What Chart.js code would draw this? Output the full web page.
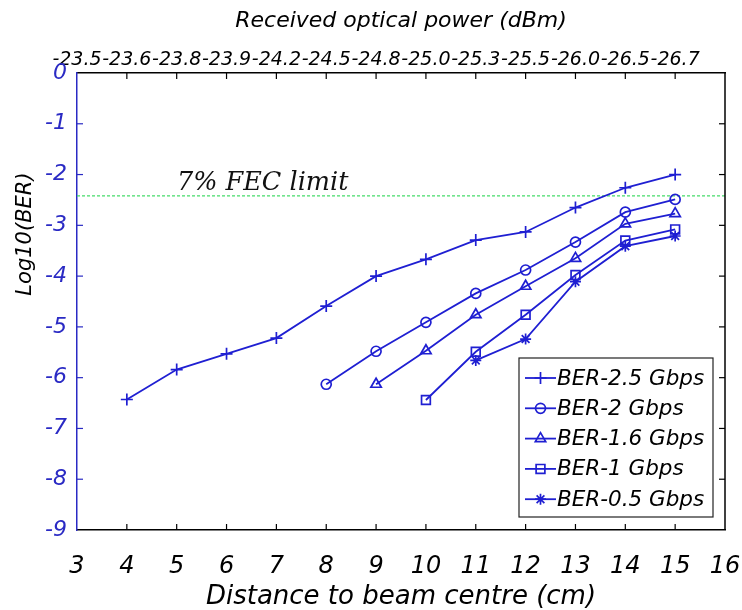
<!DOCTYPE html>
<html>
<head>
<meta charset="utf-8">
<script src="https://cdn.jsdelivr.net/npm/chart.js@4/dist/chart.umd.min.js"></script>
<style>
  html, body { margin: 0; padding: 0; background: #ffffff; }
  #wrap { width: 742px; height: 610px; position: relative; }
</style>
</head>
<body>
<div id="wrap"><canvas id="c" width="742" height="610"></canvas></div>
<script>
// ---- data ----
const xTicks = [3, 4, 5, 6, 7, 8, 9, 10, 11, 12, 13, 14, 15, 16];
const topTickLabels = ['-23.5','-23.6','-23.8','-23.9','-24.2','-24.5','-24.8','-25.0','-25.3','-25.5','-26.0','-26.5','-26.7'];

const dist25 = [4, 5, 6, 7, 8, 9, 10, 11, 12, 13, 14, 15];
const ber25  = [-6.43, -5.84, -5.53, -5.22, -4.59, -4.00, -3.67, -3.29, -3.13, -2.65, -2.26, -2.00];

const dist2 = [8, 9, 10, 11, 12, 13, 14, 15];
const ber2  = [-6.13, -5.48, -4.91, -4.34, -3.88, -3.33, -2.74, -2.49];

const dist16 = [9, 10, 11, 12, 13, 14, 15];
const ber16  = [-6.13, -5.47, -4.76, -4.20, -3.65, -2.97, -2.77];

const dist1 = [10, 11, 12, 13, 14, 15];
const ber1  = [-6.44, -5.49, -4.76, -3.98, -3.30, -3.08];

const dist05 = [11, 12, 13, 14, 15];
const ber05  = [-5.66, -5.24, -4.11, -3.41, -3.21];

const fecLimit = -2.42;
const fecLabel = '7% FEC limit';
const seriesLabels = ['BER-2.5 Gbps', 'BER-2 Gbps', 'BER-1.6 Gbps', 'BER-1 Gbps', 'BER-0.5 Gbps'];
const xTitle = 'Distance to beam centre (cm)';
const topTitle = 'Received optical power (dBm)';
const yTitle = 'Log10(BER)';

// ---- styles ----
const LINE = '#1f1fd2';
const YBLUE = '#2a2ac4';
const SANS = "'DejaVu Sans', sans-serif";

function pts(xs, ys) { return xs.map((x, i) => ({ x: x, y: ys[i] })); }

function series(label, xs, ys, style, radius) {
  return {
    label: label,
    data: pts(xs, ys),
    borderColor: LINE,
    backgroundColor: 'rgba(0,0,0,0)',
    borderWidth: 1.8,
    pointStyle: style,
    pointRadius: radius,
    pointBorderWidth: 1.7,
    pointBorderColor: LINE,
    pointBackgroundColor: 'rgba(0,0,0,0)',
    fill: false,
    tension: 0,
    inLegend: true
  };
}

const datasets = [
  series(seriesLabels[0], dist25, ber25, 'cross', 6),
  series(seriesLabels[1], dist2, ber2, 'circle', 5),
  series(seriesLabels[2], dist16, ber16, 'triangle', 6),
  series(seriesLabels[3], dist1, ber1, 'rect', 6.2),
  series(seriesLabels[4], dist05, ber05, 'star', 5.5),
  {
    label: 'FEC',
    data: [{ x: xTicks[0], y: fecLimit }, { x: xTicks[xTicks.length - 1], y: fecLimit }],
    borderColor: '#45dc6a',
    borderWidth: 1.2,
    borderDash: [3, 2],
    pointRadius: 0,
    fill: false,
    inLegend: false
  }
];

function noSidePadding(s) { s.paddingLeft = 0; s.paddingRight = 0; }

const decorPlugin = {
  id: 'decor',
  afterDraw(chart) {
    const ctx = chart.ctx;
    const ca = chart.chartArea;
    const xs = chart.scales.x, ys = chart.scales.y;
    const T = 6;
    ctx.save();
    // right border
    ctx.strokeStyle = '#000';
    ctx.lineWidth = 1.5;
    ctx.beginPath();
    ctx.moveTo(ca.right, ca.top);
    ctx.lineTo(ca.right, ca.bottom);
    ctx.stroke();
    // x ticks (bottom + top), inward
    ctx.lineWidth = 1.2;
    xTicks.forEach(v => {
      const px = xs.getPixelForValue(v);
      if (v === xTicks[0] || v === xTicks[xTicks.length - 1]) return;
      ctx.beginPath();
      ctx.moveTo(px, ca.bottom); ctx.lineTo(px, ca.bottom - T);
      ctx.moveTo(px, ca.top); ctx.lineTo(px, ca.top + T);
      ctx.stroke();
    });
    // y ticks (left blue, right black)
    for (let v = -8; v <= -1; v++) {
      const py = ys.getPixelForValue(v);
      ctx.strokeStyle = YBLUE;
      ctx.beginPath(); ctx.moveTo(ca.left, py); ctx.lineTo(ca.left + T, py); ctx.stroke();
      ctx.strokeStyle = '#000';
      ctx.beginPath(); ctx.moveTo(ca.right, py); ctx.lineTo(ca.right - T, py); ctx.stroke();
    }
    // y title
    ctx.fillStyle = '#000';
    ctx.font = "italic 21px " + SANS;
    ctx.textAlign = 'center';
    ctx.textBaseline = 'middle';
    ctx.translate(26, 234);
    ctx.rotate(-Math.PI / 2);
    ctx.fillText(yTitle, 0, 0);
    ctx.restore();

    // FEC label
    ctx.save();
    ctx.fillStyle = '#111';
    ctx.font = "italic 25.5px 'DejaVu Serif', serif";
    ctx.textAlign = 'left';
    ctx.textBaseline = 'alphabetic';
    ctx.fillText(fecLabel, 177, 190);
    ctx.restore();

    // legend box
    ctx.save();
    const bx = 519, by = 358, bw = 194, bh = 159;
    ctx.fillStyle = '#fff';
    ctx.fillRect(bx, by, bw, bh);
    ctx.strokeStyle = '#222';
    ctx.lineWidth = 1.2;
    ctx.strokeRect(bx, by, bw, bh);
    const rowY0 = 378, rowH = 30.3;
    let row = 0;
    chart.data.datasets.forEach(ds => {
      if (!ds.inLegend) return;
      const y = rowY0 + row * rowH;
      ctx.strokeStyle = ds.borderColor;
      ctx.lineWidth = ds.borderWidth;
      ctx.beginPath(); ctx.moveTo(525, y); ctx.lineTo(556, y); ctx.stroke();
      ctx.fillStyle = 'rgba(0,0,0,0)';
      ctx.lineWidth = ds.pointBorderWidth;
      Chart.helpers.drawPoint(ctx, {
        pointStyle: ds.pointStyle, radius: ds.pointRadius, rotation: 0, borderWidth: ds.pointBorderWidth
      }, 540.5, y);
      ctx.fillStyle = '#000';
      ctx.font = "italic 21.5px " + SANS;
      ctx.textAlign = 'left';
      ctx.textBaseline = 'middle';
      ctx.fillText(ds.label, 557, y + 1);
      row++;
    });
    ctx.restore();
  }
};

new Chart(document.getElementById('c'), {
  type: 'line',
  data: { datasets: datasets },
  options: {
    responsive: false,
    animation: false,
    devicePixelRatio: 1,
    layout: { padding: { left: 0, right: 17, top: 0, bottom: 0 } },
    plugins: { legend: { display: false }, tooltip: { enabled: false } },
    scales: {
      x: {
        type: 'linear', position: 'bottom', min: 3, max: 16,
        afterFit(s) { s.height = 80; noSidePadding(s); },
        afterBuildTicks(s) { s.ticks = xTicks.map(v => ({ value: v })); },
        grid: { display: false, drawTicks: false },
        border: { display: true, color: '#000', width: 1.5 },
        ticks: {
          autoSkip: false, maxRotation: 0, minRotation: 0, padding: 22, color: '#000',
          font: { family: SANS, size: 24, style: 'italic' },
          callback: v => String(v)
        },
        title: {
          display: true, text: xTitle, color: '#000',
          font: { family: SANS, size: 26, style: 'italic', lineHeight: 1.0 },
          padding: { top: 0, bottom: 0 }
        }
      },
      x2: {
        type: 'linear', position: 'top', min: 3, max: 16,
        afterFit(s) { s.height = 73; noSidePadding(s); },
        afterBuildTicks(s) { s.ticks = xTicks.map(v => ({ value: v })); },
        grid: { display: false, drawTicks: false },
        border: { display: true, color: '#000', width: 1.5 },
        ticks: {
          autoSkip: false, maxRotation: 0, minRotation: 0, padding: 2, color: '#000',
          font: { family: SANS, size: 19, style: 'italic' },
          callback: v => (topTickLabels[v - xTicks[0]] !== undefined ? topTickLabels[v - xTicks[0]] : '')
        },
        title: {
          display: true, text: topTitle, color: '#000',
          font: { family: SANS, size: 22, style: 'italic' },
          padding: { top: 8, bottom: 0 }
        }
      },
      y: {
        type: 'linear', position: 'left', min: -9, max: 0,
        afterFit(s) { s.width = 77; },
        grid: { display: false, drawTicks: false },
        border: { display: true, color: YBLUE, width: 1.5 },
        ticks: {
          stepSize: 1, padding: 10, color: YBLUE,
          font: { family: SANS, size: 22, style: 'italic' },
          callback: v => String(v)
        }
      }
    }
  },
  plugins: [decorPlugin]
});
</script>
</body>
</html>
